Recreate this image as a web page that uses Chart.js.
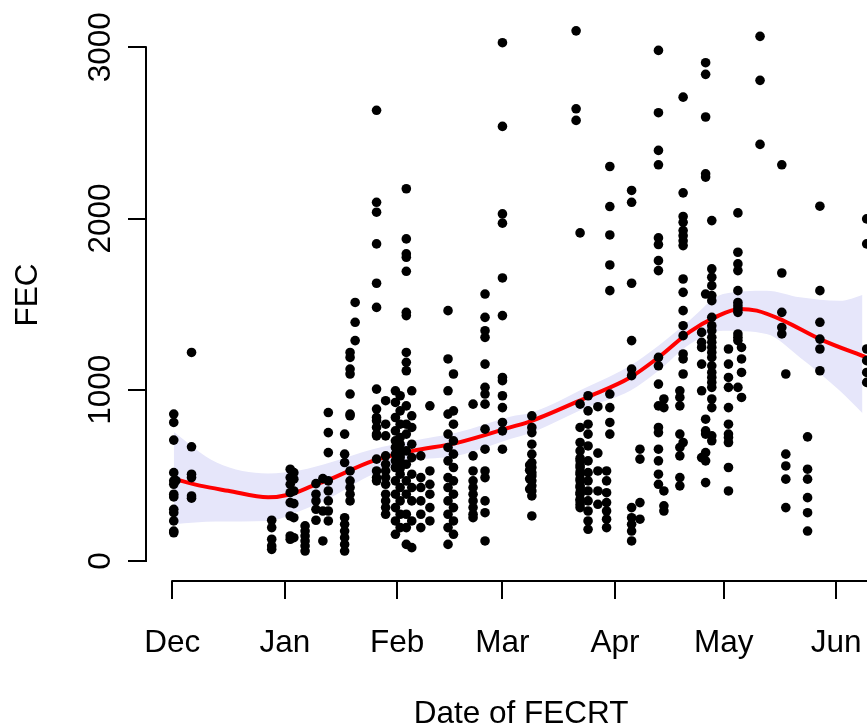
<!DOCTYPE html>
<html><head><meta charset="utf-8">
<script src="https://cdn.jsdelivr.net/npm/chart.js@4/dist/chart.umd.min.js"></script>
<style>html,body{margin:0;padding:0;background:#fff;}canvas{display:block;}</style>
</head><body>
<canvas id="c" width="867" height="727"></canvas>
<script>
// Month tick labels and their day offsets (days since 1 Dec)
const monthLabels = ['Dec','Jan','Feb','Mar','Apr','May','Jun'];
const monthDays = [0, 31, 62, 91, 122, 152, 183];
const yTickValues = [0, 1000, 2000, 3000];

// Sampling days (days since 1 Dec) and FEC values observed on each
const columnDays = [0.4, 1.0, 5.3, 27.4, 32.5, 33.5, 36.6, 39.6, 41.5, 43, 47.5, 49, 50.4, 56.3, 58.8, 61.5, 62.8, 64.5, 66, 68.5, 71, 76, 77.5, 82.9, 86.2, 91, 98.5, 99.1, 111.3, 112.4, 114.6, 117.3, 119.7, 120.6, 126.6, 128.9, 134, 135.5, 139.9, 140.8, 145.9, 147, 148.7, 153.3, 155.9, 156.9, 162, 168, 169.1, 175.1, 178.5, 191.4];
const columnFEC = [
  [858, 809, 706, 516, 468, 448, 390, 374, 302, 282, 234, 175, 165],
  [470],
  [1218, 667, 507, 487, 380, 367],
  [238, 195, 127, 88, 68],
  [536, 487, 448, 399, 341, 263, 146, 127],
  [516, 478, 409, 335, 253, 136],
  [205, 175, 146, 117, 88, 58],
  [452, 390, 351, 302, 238],
  [481, 292, 117],
  [867, 750, 633, 468, 409, 351, 292, 234],
  [741, 624, 575, 253, 214, 175, 136, 97, 58],
  [1218, 1189, 1121, 1092, 975, 858, 848, 526, 468, 429, 390, 351],
  [1510, 1394, 1287],
  [2632, 2095, 2037, 1852, 1622, 1481, 1004, 887, 838, 819, 780, 741, 731, 595, 526, 487, 468],
  [936, 799, 731, 614, 565, 526, 487, 448, 390, 351, 312, 273],
  [994, 926, 838, 760, 702, 663, 624, 585, 546, 468, 390, 312, 234, 156],
  [965, 877, 799, 721, 682, 643, 620, 604, 580, 565, 540, 507, 429, 351, 273, 195],
  [2174, 1881, 1794, 1774, 1692, 1452, 1433, 1218, 1160, 1111, 906, 799, 741, 643, 565, 468, 390, 273, 195, 97],
  [994, 848, 780, 682, 604, 507, 429, 351, 234, 78],
  [614, 487, 429, 351, 273, 195],
  [906, 526, 448, 390, 312, 234],
  [1462, 1180, 994, 858, 741, 663, 585, 487, 429, 351, 273, 195, 97],
  [1092, 877, 799, 702, 624, 546, 468, 390, 312, 234, 156],
  [916, 614, 526, 468, 429, 390, 351, 312, 273, 253],
  [1559, 1423, 1345, 1306, 1150, 1014, 975, 916, 770, 653, 526, 487, 351, 282, 117],
  [3027, 2538, 2027, 1973, 1653, 1433, 1072, 1053, 965, 896, 809, 760, 653],
  [560, 530, 480, 420],
  [848, 780, 750, 682, 624, 575, 546, 516, 497, 468, 439, 409, 380, 263],
  [3096, 2641, 2573],
  [1916, 916, 780, 692, 643, 600, 585, 560, 546, 520, 507, 480, 468, 440, 429, 400, 390, 360, 351, 330, 312],
  [965, 877, 799, 741, 672, 585, 516, 468, 409, 351, 292, 234, 185],
  [901, 630, 526, 409, 331],
  [526, 468, 399, 341, 292, 244, 195],
  [2304, 2070, 1904, 1729, 1579, 975, 896, 809, 741],
  [2164, 2095, 1622, 1287, 1121, 1082, 312, 253, 214, 175, 117],
  [653, 595, 341, 244],
  [2982, 2618, 2398, 2314, 1887, 1848, 1754, 1696, 1189, 1140, 1033, 906, 780, 750, 653, 585, 507, 448],
  [946, 896, 409, 322, 292],
  [994, 955, 906, 741, 663, 614, 487, 439],
  [2709, 2150, 2012, 1978, 1930, 1900, 1870, 1842, 1647, 1569, 1462, 1374, 1316, 1209, 1180, 1092, 692],
  [1335, 1277, 1247, 1150, 994, 604],
  [2910, 2842, 2593, 2261, 2242, 1559, 828, 760, 741, 633, 585, 458],
  [1988, 1706, 1657, 1608, 1550, 1520, 1423, 1374, 1345, 1306, 1277, 1247, 1218, 1189, 1140, 1101, 1072, 1043, 1014, 946, 896, 731, 702],
  [1238, 1150, 1072, 1014, 896, 799, 741, 721, 692, 546, 409],
  [2033, 1803, 1735, 1696, 1579, 1510, 1491, 1472, 1452, 1326, 1306, 1287, 1014],
  [1247, 1180, 1101, 955],
  [3064, 2807, 2433],
  [2314, 1682, 1452, 1364, 1326],
  [1092, 624, 555, 478, 312],
  [725, 536, 478, 370, 282, 175],
  [2072, 1579, 1394, 1296, 1238, 1111],
  [1998, 1852, 1238, 1170, 1101, 1043]
];

// Smoothed fit (red line)
const fitDays = [0.4, 7.6, 15.4, 26.4, 32.4, 38.8, 43.5, 55.3, 66.3, 78.5, 93.1, 99.1, 114.2, 126.2, 134, 142.7, 149.6, 156.4, 161.1, 168.4, 178.5, 191.8];
const fitFEC = [480, 440, 410, 372, 388, 440, 478, 585, 643, 690, 780, 819, 955, 1072, 1189, 1340, 1423, 1472, 1462, 1404, 1296, 1185];

// Confidence band
const bandDays = [0.4, 12.2, 26.4, 35.2, 43.5, 55.3, 66.3, 78.5, 93.1, 99.1, 114.2, 126.2, 134, 142.7, 151.8, 163.8, 173, 184, 191.8];
const bandUpper = [754, 575, 511, 530, 575, 653, 702, 750, 843, 867, 1014, 1140, 1257, 1408, 1559, 1579, 1540, 1520, 1565];
const bandLower = [215, 230, 234, 292, 370, 507, 585, 614, 712, 750, 896, 994, 1111, 1267, 1345, 1326, 1189, 994, 830];

const FONT_FAMILY = "'Liberation Sans', Arial, Helvetica, sans-serif";
const FONT_SIZE = 31.5;
const X_FULL_MIN = -7.25, X_FULL_MAX = 199.5;   // full plotting range (partly off the canvas)
const X_PX_PER_DAY = 3.628;
const X_PLOT_CENTRE = (X_FULL_MIN + X_FULL_MAX) / 2;

const pointData = [];
columnDays.forEach((d, i) => columnFEC[i].forEach(v => pointData.push({x: d, y: v})));
const fitData = fitDays.map((d, i) => ({x: d, y: fitFEC[i]}));
const upperData = bandDays.map((d, i) => ({x: d, y: bandUpper[i]}));
const lowerData = bandDays.map((d, i) => ({x: d, y: bandLower[i]}));

const axisPlugin = {
  id: 'rAxes',
  afterLayout(chart) {
    // keep a fixed pixels-per-day scale whatever width the chart area ends up with
    const xs = chart.scales.x, ca = chart.chartArea;
    xs.min = X_FULL_MIN;
    xs.max = X_FULL_MIN + (ca.right - ca.left) / X_PX_PER_DAY;
    xs.configure();
  },
  afterDraw(chart) {
    const ctx = chart.ctx, xs = chart.scales.x, ys = chart.scales.y, ca = chart.chartArea;
    ctx.save();
    ctx.strokeStyle = '#000';
    ctx.lineWidth = 2;
    ctx.lineCap = 'square';
    ctx.beginPath();
    ctx.moveTo(ca.left, ys.getPixelForValue(yTickValues[0]));
    ctx.lineTo(ca.left, ys.getPixelForValue(yTickValues[yTickValues.length - 1]));
    ctx.stroke();
    ctx.beginPath();
    ctx.moveTo(xs.getPixelForValue(monthDays[0]), ca.bottom);
    ctx.lineTo(chart.width + 2, ca.bottom);
    ctx.stroke();
    ctx.fillStyle = '#000';
    ctx.font = FONT_SIZE + 'px ' + FONT_FAMILY;
    ctx.textAlign = 'center';
    ctx.textBaseline = 'alphabetic';
    yTickValues.forEach(v => {
      ctx.save();
      ctx.translate(109.5, ys.getPixelForValue(v));
      ctx.rotate(-Math.PI / 2);
      ctx.fillText(String(v), 0, 0);
      ctx.restore();
    });
    ctx.save();
    ctx.translate(37, (ca.top + ca.bottom) / 2);
    ctx.rotate(-Math.PI / 2);
    ctx.fillText('FEC', 0, 0);
    ctx.restore();
    ctx.fillText('Date of FECRT', xs.getPixelForValue(X_PLOT_CENTRE), 723);
    ctx.restore();
  }
};

new Chart(document.getElementById('c'), {
  type: 'scatter',
  data: {
    datasets: [
      {
        label: 'FEC', data: pointData, order: 0, clip: false,
        pointRadius: 4.8, pointHoverRadius: 4.8, pointBorderWidth: 0,
        pointBackgroundColor: '#000', backgroundColor: '#000', borderColor: '#000'
      },
      {
        type: 'line', label: 'fit', data: fitData, order: 1, clip: false,
        borderColor: '#FF0000', borderWidth: 4, pointRadius: 0, fill: false,
        cubicInterpolationMode: 'monotone'
      },
      {
        type: 'line', label: 'upper', data: upperData, order: 3, clip: false,
        borderWidth: 0, borderColor: 'rgba(0,0,0,0)', pointRadius: 0,
        backgroundColor: '#E6E6FA', fill: '+1', cubicInterpolationMode: 'monotone'
      },
      {
        type: 'line', label: 'lower', data: lowerData, order: 3, clip: false,
        borderWidth: 0, borderColor: 'rgba(0,0,0,0)', pointRadius: 0,
        fill: false, cubicInterpolationMode: 'monotone'
      }
    ]
  },
  options: {
    responsive: false,
    animation: false,
    devicePixelRatio: 1,
    layout: { padding: { left: 0, top: 9, right: 0, bottom: 0 } },
    plugins: { legend: { display: false }, tooltip: { enabled: false }, filler: { propagate: false } },
    scales: {
      x: {
        type: 'linear', min: X_FULL_MIN, max: 191.5,
        afterBuildTicks: s => { s.ticks = monthDays.map(v => ({value: v})); },
        afterFit: s => { s.height = 146; s.paddingRight = 0; },
        grid: { display: true, drawOnChartArea: false, drawTicks: true, tickLength: 18, color: '#000', lineWidth: 2 },
        border: { display: false },
        ticks: {
          autoSkip: false, maxRotation: 0, minRotation: 0, padding: 29,
          color: '#000', font: { family: FONT_FAMILY, size: FONT_SIZE, lineHeight: 1 },
          callback: (v, i) => monthLabels[i]
        }
      },
      y: {
        type: 'linear', min: -116.8, max: 3223.7,
        afterBuildTicks: s => { s.ticks = yTickValues.map(v => ({value: v})); },
        afterFit: s => { s.width = 146; },
        grid: { display: true, drawOnChartArea: false, drawTicks: true, tickLength: 18, color: '#000', lineWidth: 2 },
        border: { display: false },
        ticks: { display: false }
      }
    }
  },
  plugins: [axisPlugin]
});
</script>
</body></html>
